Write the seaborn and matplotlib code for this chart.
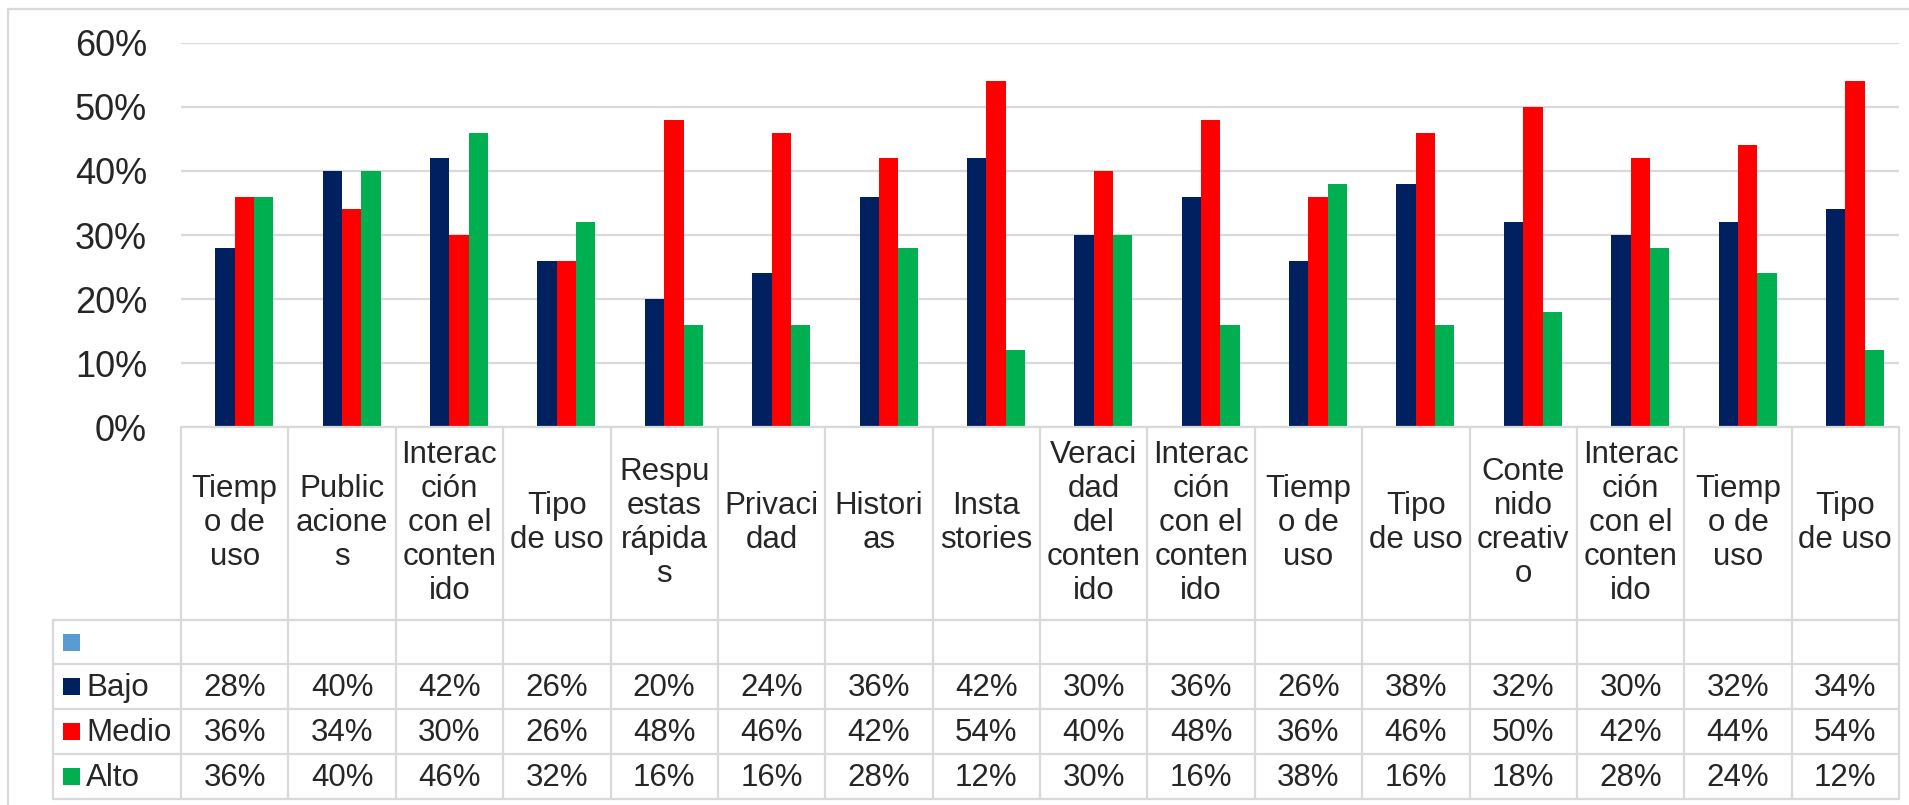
import matplotlib
matplotlib.use("Agg")
import matplotlib.pyplot as plt
import seaborn as sns
import numpy as np
import pandas as pd
from matplotlib.lines import Line2D
from matplotlib.patches import Rectangle

# data
categories = [
    "Tiempo de uso", "Publicaciones", "Interacción con el contenido", "Tipo de uso",
    "Respuestas rápidas", "Privacidad", "Historias", "Insta stories",
    "Veracidad del contenido", "Interacción con el contenido", "Tiempo de uso",
    "Tipo de uso", "Contenido creativo", "Interacción con el contenido",
    "Tiempo de uso", "Tipo de uso",
]
# labels as wrapped in the table cells
cat_labels = [
    "Tiemp\no de\nuso", "Public\nacione\ns", "Interac\nción\ncon el\nconten\nido", "Tipo\nde uso",
    "Respu\nestas\nrápida\ns", "Privaci\ndad", "Histori\nas", "Insta\nstories",
    "Veraci\ndad\ndel\nconten\nido", "Interac\nción\ncon el\nconten\nido", "Tiemp\no de\nuso",
    "Tipo\nde uso", "Conte\nnido\ncreativ\no", "Interac\nción\ncon el\nconten\nido",
    "Tiemp\no de\nuso", "Tipo\nde uso",
]
series = ["", "Bajo", "Medio", "Alto"]
bajo = [28, 40, 42, 26, 20, 24, 36, 42, 30, 36, 26, 38, 32, 30, 32, 34]
medio = [36, 34, 30, 26, 48, 46, 42, 54, 40, 48, 36, 46, 50, 42, 44, 54]
alto = [36, 40, 46, 32, 16, 16, 28, 12, 30, 16, 38, 16, 18, 28, 24, 12]
yticks = [0, 10, 20, 30, 40, 50, 60]

COLORS = {"": "#5B9BD5", "Bajo": "#002060", "Medio": "#FF0000", "Alto": "#00B050"}
GRID = "#D9D9D9"
W, H = 1909, 805
FS = 22.5

rows = []
for i in range(len(categories)):
    rows.append({"pos": i, "serie": "", "valor": np.nan})
    rows.append({"pos": i, "serie": "Bajo", "valor": bajo[i] / 100})
    rows.append({"pos": i, "serie": "Medio", "valor": medio[i] / 100})
    rows.append({"pos": i, "serie": "Alto", "valor": alto[i] / 100})
df = pd.DataFrame(rows)

sns.set_theme(style="white")
plt.rcParams["font.family"] = ["Liberation Sans", "DejaVu Sans"]

fig = plt.figure(figsize=(W / 100, H / 100), dpi=100)
# plot area in pixels
L, R, T, B = 181, 1899, 43, 427
ax = fig.add_axes([L / W, 1 - B / H, (R - L) / W, (B - T) / H])

sns.barplot(
    data=df, x="pos", y="valor", hue="serie", hue_order=series,
    palette=COLORS, width=0.72, saturation=1, ax=ax, legend=False,
    linewidth=0, errorbar=None,
)

ax.set_xlim(-0.5, len(categories) - 0.5)
ax.set_ylim(0, 0.6)
ax.set_yticks([v / 100 for v in yticks])
ax.set_yticklabels([f"{v}%" for v in yticks], fontsize=26)
ax.tick_params(axis="y", length=0, pad=24.5)
ax.set_xticks([])
ax.set_xlabel("")
ax.set_ylabel("")
for s in ax.spines.values():
    s.set_visible(False)
ax.grid(axis="y", color=GRID, linewidth=1.6)
ax.set_axisbelow(True)


def ay(px):
    # figure pixel y -> axes fraction
    return (B - px) / (B - T)


def axx(px):
    return (px - L) / (R - L)


xt = ax.get_xaxis_transform()
lw = 1.6
row_y = [427, 620, 664, 709, 754, 799]

# horizontal table lines
ax.add_line(Line2D([0, 1], [ay(427)] * 2, transform=ax.transAxes, color=GRID, lw=lw, clip_on=False))
for y in row_y[1:]:
    ax.add_line(Line2D([axx(53), 1], [ay(y)] * 2, transform=ax.transAxes, color=GRID, lw=lw, clip_on=False))
# vertical table lines
ax.add_line(Line2D([axx(53)] * 2, [ay(620), ay(799)], transform=ax.transAxes, color=GRID, lw=lw, clip_on=False))
for i in range(len(categories) + 1):
    ax.add_line(Line2D([i - 0.5] * 2, [ay(427), ay(799)], transform=xt, color=GRID, lw=lw, clip_on=False))

# category labels
for i, lab in enumerate(cat_labels):
    ax.text(i, ay(523), lab, transform=xt, ha="center", va="center", fontsize=FS,
            linespacing=1.17, multialignment="center", clip_on=False)

# data rows with legend keys
values = {"": None, "Bajo": bajo, "Medio": medio, "Alto": alto}
for k, name in enumerate(series):
    y0, y1 = row_y[k + 1], row_y[k + 2]
    yc = (y0 + y1) / 2
    ax.add_patch(Rectangle((axx(63), ay(yc + 8.5)), axx(80) - axx(63), ay(yc - 8.5) - ay(yc + 8.5),
                           transform=ax.transAxes, color=COLORS[name], clip_on=False, lw=0))
    if name:
        ax.text(axx(86), ay(yc + 1), name, transform=ax.transAxes, ha="left", va="center",
                fontsize=FS, clip_on=False)
        for i, v in enumerate(values[name]):
            ax.text(i, ay(yc + 1), f"{v}%", transform=xt, ha="center", va="center",
                    fontsize=FS, clip_on=False)

# outer chart border
fig.add_artist(Rectangle((8 / W, -0.1), 1.2, 1 - 9.5 / H + 0.1, transform=fig.transFigure,
                         fill=False, edgecolor=GRID, lw=1.6))

fig.savefig("out.png", dpi=100)
